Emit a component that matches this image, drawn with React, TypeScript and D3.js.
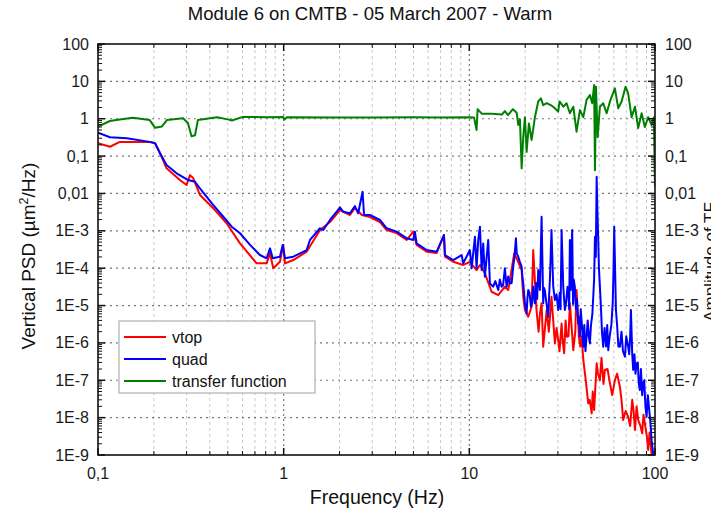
import React from "react";
import * as d3 from "d3";

const title = "Module 6 on CMTB - 05 March 2007 - Warm";
const xTitle = "Frequency (Hz)";
const rightTitle = "Amplitude of TF";

const xTickValues = [0.1, 1, 10, 100];
const xTickLabels = ["0,1", "1", "10", "100"];
const yTickValues = [1e-9, 1e-8, 1e-7, 1e-6, 1e-5, 1e-4, 1e-3, 0.01, 0.1, 1, 10, 100];
const yTickLabels = ["1E-9", "1E-8", "1E-7", "1E-6", "1E-5", "1E-4", "1E-3", "0,01", "0,1", "1", "10", "100"];

// [frequency (Hz), PSD (µm²/Hz)]
const quadData: [number, number][] = [
  [0.1, 0.42], [0.116, 0.32], [0.143, 0.3], [0.19, 0.24], [0.203, 0.22], [0.216, 0.119], [0.234, 0.058], [0.265, 0.0346], [0.306, 0.0229], [0.333, 0.0206], [0.354, 0.0137], [0.418, 4.9e-3], [0.473, 2.38e-3], [0.525, 1.29e-3], [0.582, 8.6e-4], [0.659, 4.2e-4], [0.745, 2.25e-4], [0.81, 1.84e-4], [0.844, 3.4e-4], [0.873, 1.84e-4], [0.955, 2.03e-4], [0.988, 4.2e-4], [1.016, 1.84e-4], [1.127, 2.03e-4], [1.33, 3.06e-4],
  [1.386, 5.7e-4], [1.569, 1.17e-3], [1.635, 1.05e-3], [1.776, 1.95e-3], [1.93, 3.25e-3], [2.01, 4.26e-3], [2.09, 3.25e-3], [2.275, 2.94e-3], [2.42, 4.6e-3], [2.52, 2.94e-3], [2.66, 0.0111], [2.71, 2.65e-3], [2.915, 2.65e-3], [3.3, 1.95e-3], [3.59, 1.17e-3], [4.06, 9.5e-4], [4.6, 6.3e-4], [4.99, 5.7e-4], [5.09, 9.5e-4], [5.2, 4.6e-4], [5.89, 3.06e-4], [6.67, 2.76e-4], [7.3, 7.7e-4], [7.39, 2.25e-4], [8.19, 1.65e-4], [9.09, 2.25e-4], [9.27, 1.35e-4],
  [10.07, 3.06e-4], [10.29, 1.0e-4], [10.72, 6.95e-4], [10.94, 1.0e-4], [11.17, 5.7e-4], [11.41, 1.29e-3], [11.65, 8.9e-5], [11.88, 4.6e-4], [12.13, 5.9e-5], [12.4, 2e-4], [12.64, 5.7e-4], [12.91, 3.9e-5], [13.45, 3.2e-5], [13.8, 4.5e-5], [14.31, 2.6e-5], [14.6, 5e-5], [14.92, 3.2e-5], [15.2, 3.5e-5], [15.54, 9.9e-5], [15.88, 3.2e-5], [16.2, 6e-5], [16.54, 3.9e-5], [16.9, 4e-5], [17.23, 1.09e-4], [17.5, 2e-4], [17.82, 6.3e-4], [18.0, 2.5e-4], [18.34, 2.03e-4], [18.7, 1.5e-4], [19.13, 1.09e-4], [19.3, 6e-5], [19.51, 3.9e-5], [19.93, 1.15e-5],
  [20.35, 6.2e-6], [20.55, 1.5e-5], [20.76, 2.6e-5], [21.1, 2.2e-5], [21.46, 9.3e-6], [21.8, 1.2e-5], [22.09, 3.2e-5], [22.3, 2e-5], [22.56, 1.15e-5], [22.9, 4e-5], [23.2, 1.5e-5], [23.5, 8.9e-5], [23.8, 4.5e-5], [24.0, 2.6e-5], [24.5, 2.38e-3], [25.0, 1.15e-5], [25.2, 3e-5], [25.5, 2.6e-5], [26.0, 1.2e-5], [26.6, 5.0e-6], [26.9, 1.8e-5], [27.2, 5.9e-5], [27.7, 1.05e-3], [28.3, 3.2e-5], [28.9, 1.4e-5], [29.5, 2e-5], [30.1, 7.6e-6], [30.7, 2.2e-5], [31.0, 8e-6], [31.4, 1.05e-3], [32.05, 3.2e-5], [32.7, 7.6e-6], [33.2, 1.2e-5], [33.8, 3.2e-5], [34.2, 2e-5], [34.5, 8e-6], [34.8, 5.7e-4], [35.2, 2.6e-5], [35.8, 1.05e-3], [36.2, 1.1e-5], [36.5, 5e-5], [37.0, 3.2e-5], [37.5, 8e-6], [38.0, 1.5e-5], [38.6, 3.3e-6], [39.0, 5e-6], [39.4, 1.46e-6], [39.8, 8e-6], [40.5, 2.5e-6],
  [41.1, 7.9e-7], [41.6, 3e-6], [42.2, 6e-7], [42.8, 1.46e-6], [43.4, 4e-6], [44.0, 1.5e-6], [44.6, 9.7e-7], [45.2, 3e-6], [46.0, 6e-6], [46.5, 1.72e-5], [47.0, 5e-5], [47.5, 6.95e-4], [48.0, 2e-4], [48.5, 0.028], [49.0, 3e-3], [49.4, 6.95e-4], [49.9, 1e-4], [50.5, 3.2e-5], [51.2, 8e-6], [51.8, 2e-6], [52.6, 7.9e-7], [53.5, 2.5e-6], [54.5, 8e-7], [55.3, 3e-6], [56.0, 6.4e-7], [57.0, 1.5e-6], [58.2, 3e-6], [59.2, 1.2e-5], [59.8, 1e-4], [60.3, 1.29e-3],
  [61.6, 7.6e-6], [62.5, 3e-6], [63.5, 8e-7], [64.7, 7.9e-7], [66.0, 2e-6], [67.2, 6e-7], [68.9, 4.3e-7], [70.0, 1.5e-6], [71.7, 7.9e-7], [72.6, 5e-7], [73.5, 1.5e-6], [74.2, 7.6e-6], [75.4, 5e-7], [76.3, 1.9e-7], [77.5, 5e-7], [78.5, 1.5e-7], [79.6, 2.84e-7], [80.8, 3e-7], [81.8, 8e-8], [82.9, 5.5e-8], [84.0, 2e-7], [85.3, 4e-8], [86.4, 8.3e-8], [87.5, 1e-7], [88.8, 2e-8], [90.1, 1.06e-8], [91.5, 4e-8], [93.1, 1.6e-8], [94.3, 8e-9], [95.9, 2.5e-9], [97.8, 1.05e-9],
];

const vtopData: [number, number][] = [
  [0.1, 0.22], [0.116, 0.178], [0.131, 0.24], [0.19, 0.24], [0.203, 0.22], [0.22, 0.096], [0.234, 0.047], [0.276, 0.0229], [0.3, 0.0168], [0.313, 0.031], [0.326, 0.0254], [0.354, 9.1e-3], [0.418, 4.0e-3], [0.493, 1.59e-3], [0.582, 4.6e-4], [0.715, 1.35e-4], [0.81, 1.35e-4], [0.844, 2.5e-4], [0.879, 1.0e-4], [0.955, 1.49e-4], [0.995, 4.2e-4], [1.016, 1.35e-4], [1.127, 1.65e-4], [1.33, 2.76e-4],
  [1.569, 1.05e-3], [1.776, 1.72e-3], [2.01, 3.6e-3], [2.275, 2.65e-3], [2.42, 4.07e-3], [2.64, 2.65e-3], [2.915, 2.34e-3], [3.3, 1.72e-3], [3.59, 1.05e-3], [4.06, 8.7e-4], [4.6, 5.7e-4], [4.99, 9.5e-4], [5.2, 4.2e-4], [5.89, 2.76e-4], [6.67, 2.55e-4], [7.3, 7.7e-4], [7.39, 2.03e-4], [8.19, 1.49e-4], [9.27, 1.22e-4],
  [10.07, 1.46e-4], [10.94, 8.9e-5], [11.41, 1.22e-4], [12.13, 7.3e-5], [13.18, 2.34e-5], [14.31, 1.9e-5], [15.54, 3.2e-5], [16.2, 2.6e-5], [17.45, 2.5e-4], [18.34, 1.46e-4], [19.13, 8.9e-5], [19.51, 1.72e-5], [19.93, 7.6e-6],
  [20.76, 5.0e-6], [21.65, 9.3e-6], [22.09, 3.06e-4], [23.0, 7.6e-6], [23.6, 2e-6], [24.0, 6e-6], [24.5, 1.15e-5], [25.0, 7.9e-7], [26.1, 7.6e-6], [26.8, 2e-6], [27.2, 5e-6], [27.7, 1.72e-5], [28.9, 9.7e-7], [29.5, 2.5e-6], [30.1, 1.19e-6], [30.6, 6e-7], [31.4, 3.3e-6], [31.8, 1.2e-6], [32.4, 5.3e-7], [33.0, 4e-6], [33.5, 1.46e-6], [34.2, 1.5e-6], [34.8, 1.15e-5], [35.5, 3e-6], [36.3, 6.4e-7], [37.2, 2e-6], [37.8, 2.6e-5], [38.9, 1.46e-6], [39.6, 8e-7], [40.3, 1.5e-6],
  [41.1, 3.5e-7], [42.2, 1.2e-7], [43.7, 2.4e-8], [44.5, 3e-8], [45.6, 1.3e-8], [46.2, 5e-8], [47.0, 1.6e-8], [48.5, 2.84e-7], [49.3, 1.5e-7], [50.5, 1.0e-7], [51.5, 4e-7], [52.8, 8e-8], [53.7, 1.9e-7], [55.5, 2e-7], [57.2, 8.3e-8], [58.8, 4e-8], [60.8, 1.0e-7], [62.5, 1.5e-7], [64.7, 6.7e-8], [66.0, 3e-8], [67.4, 8.6e-9], [69.5, 1.5e-8], [71.7, 1.06e-8], [73.5, 6e-9], [75.4, 3.0e-8], [76.7, 1.5e-8], [78.0, 4.7e-9], [79.6, 2e-8], [81.2, 8.6e-9], [83.5, 6e-9], [85.3, 3.8e-9], [86.7, 1.2e-8], [88.2, 7.0e-9], [90.5, 3e-9], [91.9, 1.36e-9], [93.5, 4e-9], [95.9, 1.0e-9],
];

// [frequency (Hz), transfer function amplitude]
const tfData: [number, number][] = [
  [0.1, 0.62], [0.116, 0.87], [0.131, 0.96], [0.154, 1.06], [0.19, 0.92], [0.203, 0.57], [0.221, 0.62], [0.235, 0.92], [0.287, 1.03], [0.305, 0.77], [0.319, 0.34], [0.333, 0.36], [0.345, 0.92], [0.437, 1.1], [0.5, 0.96], [0.526, 0.9], [0.603, 1.12], [0.81, 1.1], [0.99, 1.12], [1.01, 0.95], [1.04, 1.1], [2.0, 1.08], [3.0, 1.08], [5.0, 1.1], [7.0, 1.08], [10.0, 1.1], [10.6, 1.08],
  [10.94, 0.5], [11.08, 1.8], [11.69, 1.35], [13.24, 1.35], [14.98, 1.3], [15.54, 1.6], [16.14, 1.25], [17.17, 1.8], [17.98, 1.45], [18.34, 0.68], [18.73, 0.96], [19.13, 0.047], [19.51, 0.32], [19.93, 1.1], [20.35, 0.13], [20.94, 0.75], [21.65, 0.27], [22.56, 1.1], [23.5, 2.9], [24.3, 3.5], [25.0, 2.3], [26.1, 2.6], [27.9, 2.2],
  [28.9, 1.9], [30.1, 1.55], [30.6, 2.9], [32.05, 2.1], [33.4, 2.6], [34.8, 1.4], [36.3, 2.1], [37.8, 0.45], [39.4, 1.7], [41.1, 1.1], [42.8, 3.2], [44.6, 4.3], [45.9, 2.6], [47.0, 8.0], [47.5, 0.042], [48.1, 7.2], [49.1, 0.32], [50.5, 2.1], [52.6, 2.6], [54.9, 1.4], [57.2, 2.9], [60.8, 6.5], [63.4, 1.9], [66.1, 2.9], [69.4, 7.2], [71.7, 4.8],
  [74.8, 1.1], [78.0, 2.1], [81.2, 0.56], [84.7, 1.4], [88.2, 0.6], [91.9, 1.1], [95.9, 0.68], [98.6, 1.1], [100, 0.015],
];

const legendNames = ["vtop", "quad", "transfer function"];
const legendColors = ["#ff0000", "#0000ff", "#008000"];

const W = 711;
const H = 517;
const L = 98, R = 655, T = 44, B = 455;
const FONT = "'Liberation Sans', Arial, sans-serif";

export default function App() {
  const x = d3.scaleLog().domain([0.1, 100]).range([L, R]);
  const y = d3.scaleLog().domain([1e-9, 100]).range([B, T]);

  const mk = (data: [number, number][]) =>
    d3
      .line<[number, number]>()
      .x((d) => x(d[0]))
      .y((d) => y(d[1]))(d3.sort(data, (d) => d[0])) || "";

  const series = [
    { path: mk(vtopData), color: legendColors[0] },
    { path: mk(quadData), color: legendColors[1] },
    { path: mk(tfData), color: legendColors[2] },
  ];

  const xMinor: number[] = [];
  [0.1, 1, 10].forEach((d) => {
    for (let k = 2; k <= 9; k++) xMinor.push(k * d);
  });
  const yMinor: number[] = [];
  yTickValues.slice(0, -1).forEach((d) => {
    for (let k = 2; k <= 9; k++) yMinor.push(k * d);
  });

  const legendRows = [337, 359, 381];

  return (
    <svg width={W} height={H} style={{ position: "absolute", left: 0, top: 0, background: "#fff" }} fontFamily={FONT}>
      <defs>
        <clipPath id="plotclip">
          <rect x={L} y={T - 1} width={R - L} height={B - T + 2} />
        </clipPath>
      </defs>
      <text x={370} y={20} textAnchor="middle" fontSize={18.5} fill="#111">{title}</text>

      {/* grid */}
      {xMinor.map((v, i) => (
        <line key={"gxm" + i} x1={x(v)} x2={x(v)} y1={T} y2={B} stroke="#c8c8c8" strokeWidth={1} strokeDasharray="3,3" />
      ))}
      {[1, 10].map((v, i) => (
        <line key={"gxM" + i} x1={x(v)} x2={x(v)} y1={T} y2={B} stroke="#777" strokeWidth={1.2} strokeDasharray="2,3" />
      ))}
      {yTickValues.slice(1, -1).map((v, i) => (
        <line key={"gy" + i} x1={L} x2={R} y1={y(v)} y2={y(v)} stroke="#777" strokeWidth={1.2} strokeDasharray="2,4" />
      ))}

      {/* data */}
      <g clipPath="url(#plotclip)">
        {series.map((s, i) => (
          <path key={i} d={s.path} fill="none" stroke={s.color} strokeWidth={2} strokeLinejoin="round" />
        ))}
      </g>

      {/* frame */}
      <rect x={L} y={T} width={R - L} height={B - T} fill="none" stroke="#111" strokeWidth={1.6} />

      {/* y ticks left & right */}
      {yTickValues.map((v, i) => (
        <g key={"yt" + i}>
          <line x1={L} x2={L + 7} y1={y(v)} y2={y(v)} stroke="#111" strokeWidth={1.5} />
          <line x1={R} x2={R - 7} y1={y(v)} y2={y(v)} stroke="#111" strokeWidth={1.5} />
          <text x={89} y={y(v) + 5.5} textAnchor="end" fontSize={16} fill="#1a1a1a">{yTickLabels[i]}</text>
          <text x={665} y={y(v) + 5.5} textAnchor="start" fontSize={16} fill="#1a1a1a">{yTickLabels[i]}</text>
        </g>
      ))}
      {yMinor.map((v, i) => (
        <g key={"ym" + i}>
          <line x1={L} x2={L + 4} y1={y(v)} y2={y(v)} stroke="#111" strokeWidth={1} />
          <line x1={R} x2={R - 4} y1={y(v)} y2={y(v)} stroke="#111" strokeWidth={1} />
        </g>
      ))}

      {/* x ticks bottom & top */}
      {xTickValues.map((v, i) => (
        <g key={"xt" + i}>
          <line x1={x(v)} x2={x(v)} y1={B} y2={B - 7} stroke="#111" strokeWidth={1.5} />
          <line x1={x(v)} x2={x(v)} y1={T} y2={T + 7} stroke="#111" strokeWidth={1.5} />
          <text x={x(v)} y={479} textAnchor="middle" fontSize={16} fill="#1a1a1a">{xTickLabels[i]}</text>
        </g>
      ))}
      {xMinor.map((v, i) => (
        <g key={"xm" + i}>
          <line x1={x(v)} x2={x(v)} y1={B} y2={B - 4} stroke="#111" strokeWidth={1} />
          <line x1={x(v)} x2={x(v)} y1={T} y2={T + 4} stroke="#111" strokeWidth={1} />
        </g>
      ))}

      {/* axis titles */}
      <text x={377} y={504} textAnchor="middle" fontSize={19.5} fill="#111">{xTitle}</text>
      <text transform="translate(35,256) rotate(-90)" textAnchor="middle" fontSize={19} fill="#111">
        Vertical PSD (µm<tspan dy={-7} fontSize={12.5}>2</tspan><tspan dy={7}>/Hz)</tspan>
      </text>
      <text transform="translate(716,262) rotate(-90)" textAnchor="middle" fontSize={17} fill="#111">{rightTitle}</text>

      {/* legend */}
      <rect x={119} y={321} width={196} height={72} fill="#fff" stroke="#a0a0a0" strokeWidth={1} />
      {legendNames.map((n, i) => (
        <g key={"lg" + i}>
          <line x1={124} x2={166} y1={legendRows[i]} y2={legendRows[i]} stroke={legendColors[i]} strokeWidth={2} />
          <text x={172} y={legendRows[i] + 5.5} fontSize={16} fill="#111">{n}</text>
        </g>
      ))}
    </svg>
  );
}
